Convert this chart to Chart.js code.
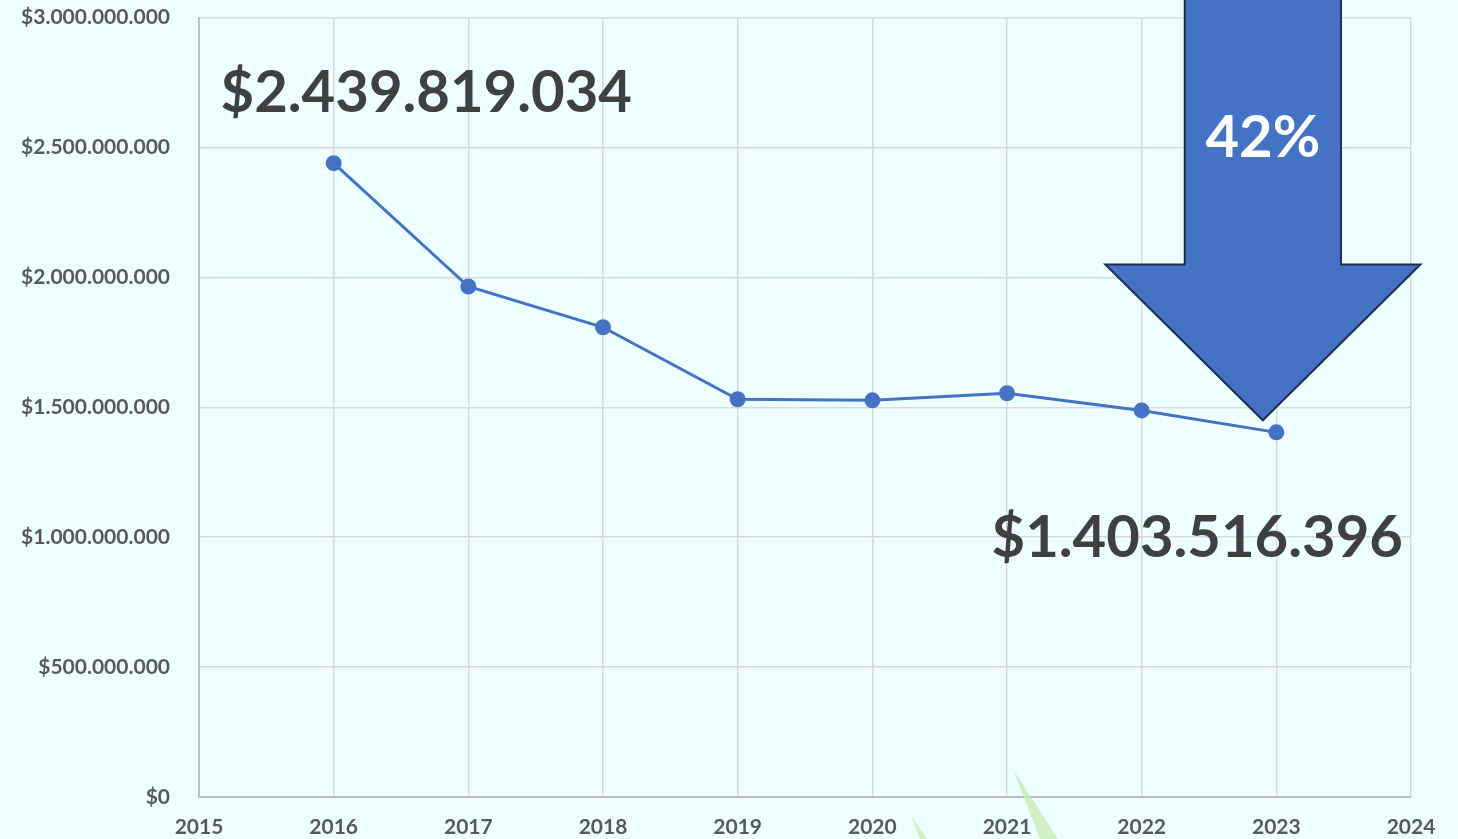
<!DOCTYPE html>
<html>
<head>
<meta charset="utf-8">
<script src="https://cdn.jsdelivr.net/npm/chart.js@4.4.1/dist/chart.umd.min.js"></script>
<style>
  html, body { margin: 0; padding: 0; background: #eeffff; overflow: hidden; }
  #wrap { position: relative; top: -24px; width: 1458px; height: 863px; }
</style>
</head>
<body>
<div id="wrap"><canvas id="chart"></canvas></div>
<script>
// Data
const years = [2016, 2017, 2018, 2019, 2020, 2021, 2022, 2023];
const amounts = [2439819034, 1965000000, 1808000000, 1531000000, 1527000000, 1554000000, 1488000000, 1403516396];
const yTicks = [0, 500000000, 1000000000, 1500000000, 2000000000, 2500000000, 3000000000];
const xRange = [2015, 2024];

// canvas is pulled up by this much (see #wrap)
const SHIFT = 24;

// Dotted thousands, like the original ($2.439.819.034)
function money(v) {
    return '$' + Math.round(v).toString().replace(/\B(?=(\d{3})+(?!\d))/g, '.');
}

const first = amounts[0];
const last = amounts[amounts.length - 1];
const dropPct = Math.round((1 - last / first) * 100) + '%';

const lineBlue = '#4472c4';
const tickGray = '#595959';

// Arrow and labels drawn on top of the chart
const annotations = {
    id: 'annotations',
    afterDraw(chart) {
        const { ctx, scales: { x, y } } = chart;
        ctx.save();

        // faint green slivers at the bottom
        ctx.fillStyle = 'rgba(200, 235, 180, 0.8)';
        ctx.beginPath();
        ctx.moveTo(1013, 769 + SHIFT); ctx.lineTo(1058, 839 + SHIFT); ctx.lineTo(1040, 839 + SHIFT); ctx.closePath();
        ctx.fill();
        ctx.beginPath();
        ctx.moveTo(911, 815 + SHIFT); ctx.lineTo(927, 839 + SHIFT); ctx.lineTo(920, 839 + SHIFT); ctx.closePath();
        ctx.fill();

        // big value labels
        ctx.fillStyle = '#404040';
        ctx.font = 'bold 58px Lato';
        ctx.textBaseline = 'middle';
        ctx.textAlign = 'left';
        ctx.fillText(money(first), x.getPixelForValue(2015.16), y.getPixelForValue(2.71e9));
        ctx.textAlign = 'right';
        ctx.fillText(money(last), x.getPixelForValue(2023.94), y.getPixelForValue(0.995e9));

        // down arrow
        const sx0 = x.getPixelForValue(2022.32), sx1 = x.getPixelForValue(2023.48);
        const hx0 = x.getPixelForValue(2021.73), hx1 = x.getPixelForValue(2024.07);
        const tipX = x.getPixelForValue(2022.9), tipY = y.getPixelForValue(1.45e9);
        const neckY = y.getPixelForValue(2.05e9);
        ctx.beginPath();
        ctx.moveTo(sx0, -5);
        ctx.lineTo(sx0, neckY);
        ctx.lineTo(hx0, neckY);
        ctx.lineTo(tipX, tipY);
        ctx.lineTo(hx1, neckY);
        ctx.lineTo(sx1, neckY);
        ctx.lineTo(sx1, -5);
        ctx.closePath();
        ctx.fillStyle = lineBlue;
        ctx.fill();
        ctx.lineWidth = 2;
        ctx.strokeStyle = '#1f2d4f';
        ctx.stroke();

        ctx.fillStyle = '#ffffff';
        ctx.font = 'bold 58px Lato';
        ctx.textAlign = 'center';
        ctx.fillText(dropPct, tipX, y.getPixelForValue(2.535e9));
        ctx.restore();
    }
};

new Chart(document.getElementById('chart'), {
    type: 'line',
    data: {
        datasets: [{
            data: years.map((yr, i) => ({ x: yr, y: amounts[i] })),
            borderColor: lineBlue,
            backgroundColor: lineBlue,
            borderWidth: 3,
            pointRadius: 6.5,
            pointHoverRadius: 6.5,
            tension: 0
        }]
    },
    options: {
        responsive: true,
        maintainAspectRatio: false,
        animation: false,
        layout: { padding: { top: 0, right: 47, left: 0, bottom: 0 } },
        plugins: { legend: { display: false }, tooltip: { enabled: false } },
        scales: {
            x: {
                type: 'linear',
                min: xRange[0],
                max: xRange[1],
                ticks: {
                    stepSize: 1,
                    padding: 18,
                    color: tickGray,
                    font: { family: 'Lato', weight: 'bold', size: 21 },
                    callback: v => String(v)
                },
                grid: { color: '#d9d9d9', lineWidth: 1.5, drawTicks: false },
                border: { color: '#bfbfbf', width: 2 },
                afterFit(axis) { axis.height = 42; }
            },
            y: {
                min: 0,
                max: 3000000000,
                afterBuildTicks(axis) { axis.ticks = yTicks.map(v => ({ value: v })); },
                ticks: {
                    padding: 29,
                    color: tickGray,
                    font: { family: 'Lato', weight: 'bold', size: 21 },
                    callback: v => money(v)
                },
                grid: { color: '#d9d9d9', lineWidth: 1.5, drawTicks: false },
                border: { color: '#bfbfbf', width: 2 },
                afterFit(axis) { axis.width = 199; }
            }
        }
    },
    plugins: [annotations]
});
</script>
</body>
</html>
